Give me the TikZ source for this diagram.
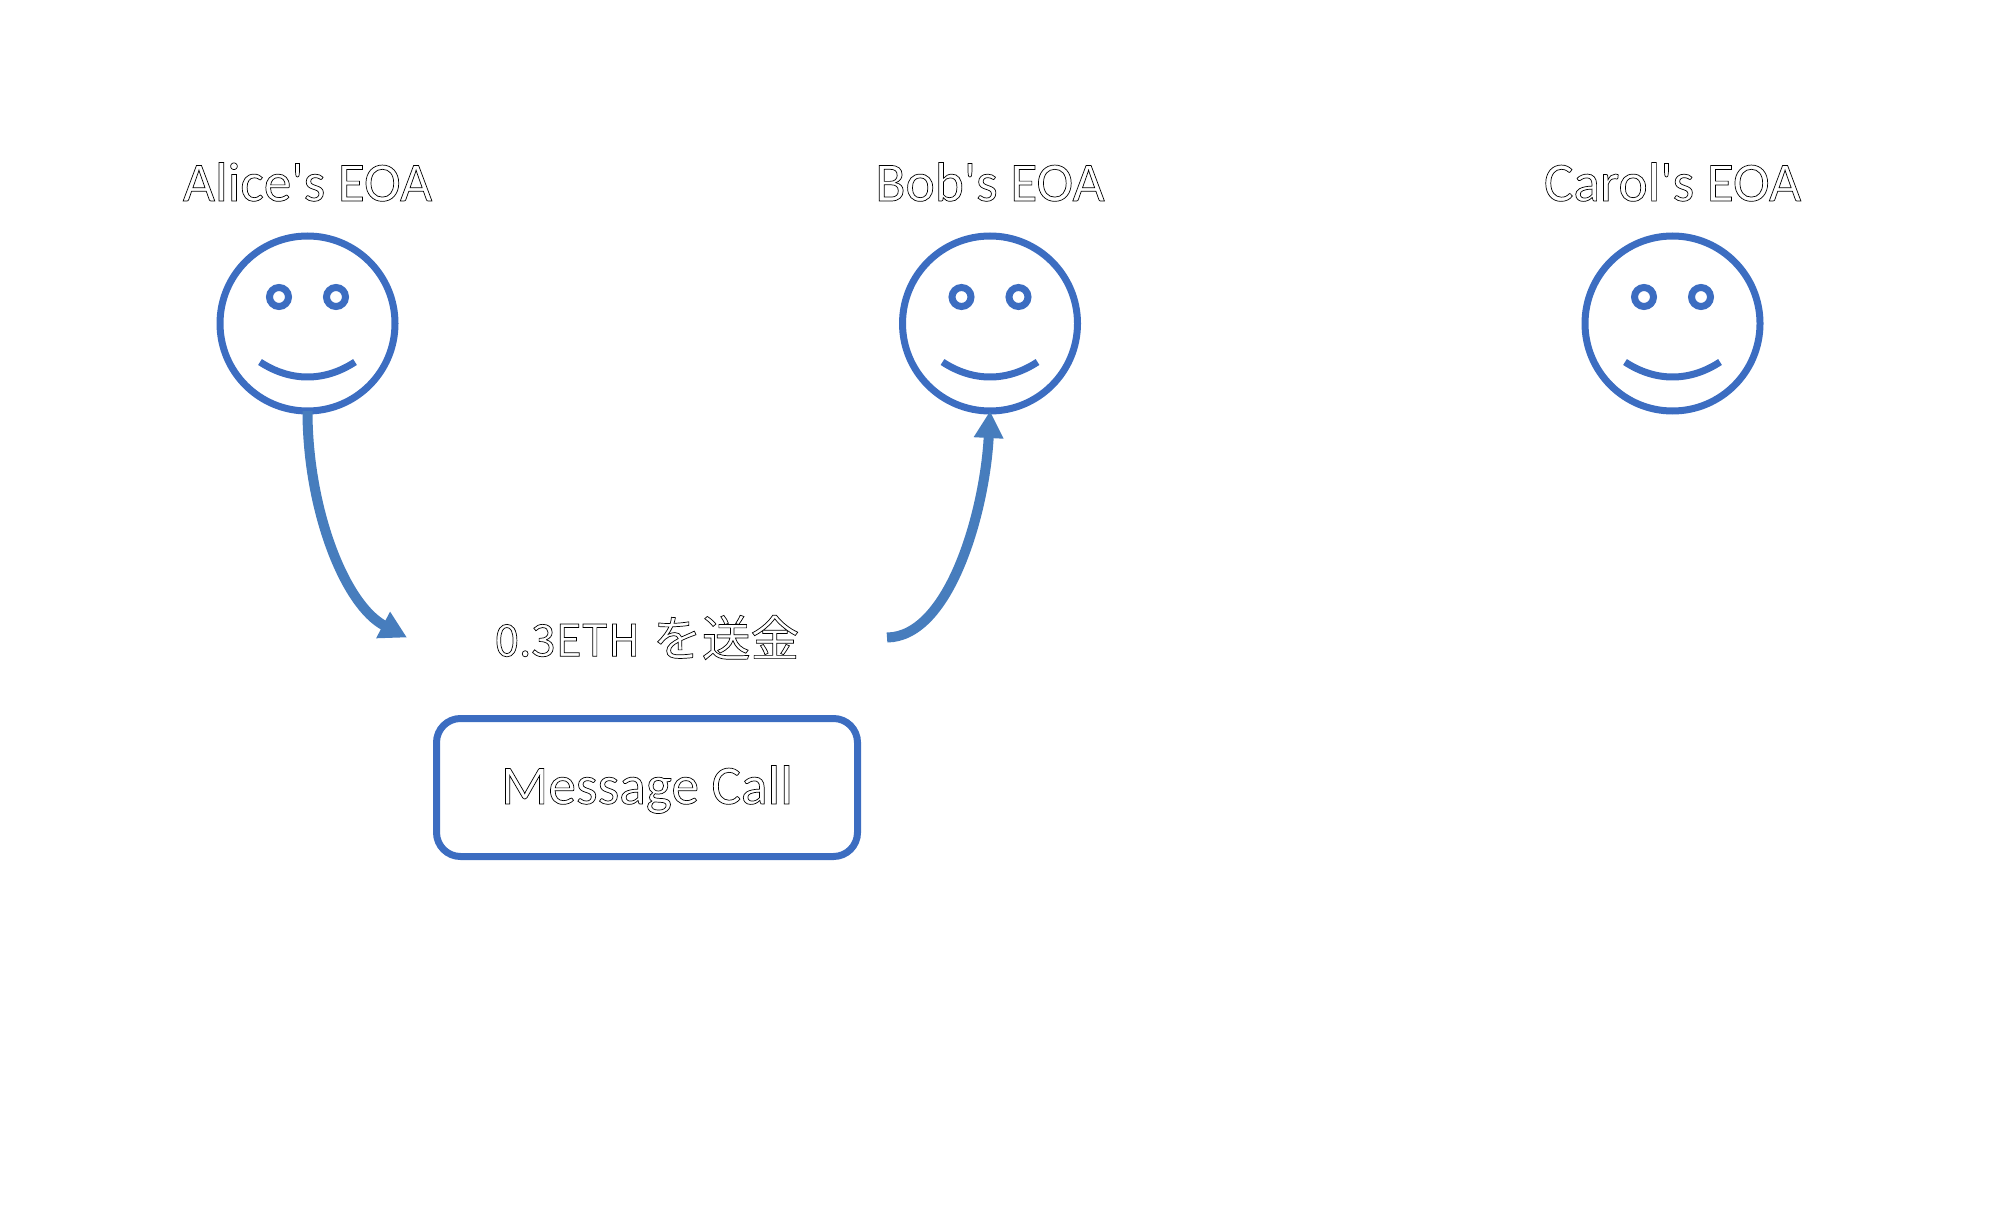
\documentclass[tikz,border=0pt]{standalone}
\usepackage{fontspec}
\usetikzlibrary{arrows.meta}
\setmainfont{Carlito}[Ligatures=TeXOff]
\newfontfamily\cjkfont{Noto Sans CJK JP}
\definecolor{faceblue}{HTML}{3C6DC1}
\definecolor{linkblue}{HTML}{477DBD}
\newcommand{\outlined}[1]{\special{pdf:code 1 Tr 0.35 w 0 0 0 RG}#1\special{pdf:code 0 Tr}}
\tikzset{
  x=0.5pt,y=-0.5pt,
  facering/.style={draw=faceblue,line width=3.5pt,circle,minimum size=87.5pt,inner sep=0pt,outer sep=0pt},
  eyering/.style={draw=faceblue,line width=3.5pt,circle,minimum size=9.5pt,inner sep=0pt,outer sep=0pt},
  smileline/.style={draw=faceblue,line width=3.5pt},
  title/.style={font=\fontsize{27.7}{32}\selectfont,inner sep=0pt,anchor=base},
  callbox/.style={draw=faceblue,line width=3.5pt,rounded corners=12pt,minimum width=210.5pt,minimum height=69pt,inner sep=0pt,outer sep=0pt,font=\fontsize{27.7}{32}\selectfont},
  sendlabel/.style={minimum width=240pt,inner sep=0pt,outer sep=0pt,font=\cjkfont\fontsize{24.4}{28}\selectfont},
  link/.style={draw=linkblue,line width=5pt,-{Triangle[length=13.5pt,width=14pt]}}
}
\begin{document}
\begin{tikzpicture}
\useasboundingbox (0,0) rectangle (2000,1213);
\node[facering] (alice) at (307.5,323.5) {};
\node[facering] (bob) at (990,323.5) {};
\node[facering] (carol) at (1672.5,323.5) {};
\foreach \n/\c in {aa/307.5,bb/990,cc/1672.5}{
  \node[eyering] (\n l) at (\c-28.5,297) {};
  \node[eyering] (\n r) at (\c+28.5,297) {};
  \draw[smileline] (\c-47.5,362) .. controls (\c-17,382) and (\c+17,382) .. (\c+47.5,362);
}
\node[title] (alicet) at (307.5,201) {\outlined{Alice's EOA}};
\node[title] (bobt) at (990,201) {\outlined{Bob's EOA}};
\node[title] (carolt) at (1672.5,201) {\outlined{Carol's EOA}};
\node[sendlabel] (send) at (647,637.5) {\outlined{{\fontsize{22}{28}\selectfont 0.3ETH}\hspace{1pt} を送金}\hspace{2pt}};
\node[callbox] (call) at (647,787.5) {\raisebox{0pt}[16.5pt][0pt]{\outlined{Message Call}}};
\draw[link] (alice.south) .. controls (307.5,510) and (345,605) .. (send.west);
\draw[link] (send.east) .. controls (950,637) and (985,510) .. (bob.south);
\end{tikzpicture}
\end{document}
